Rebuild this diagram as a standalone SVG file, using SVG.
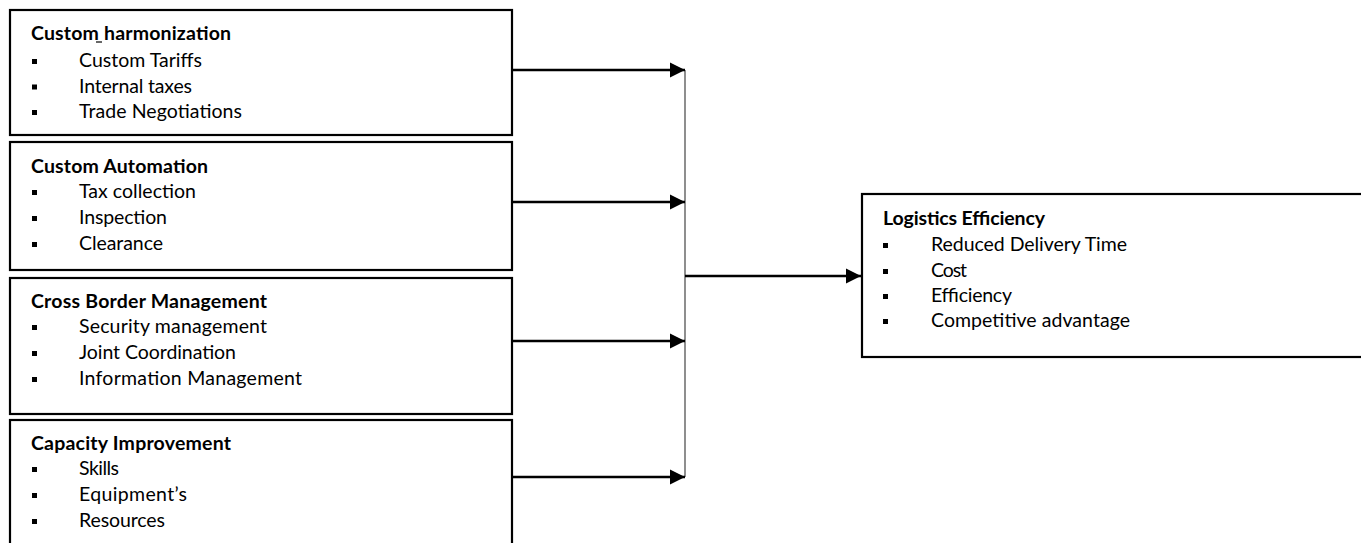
<svg xmlns="http://www.w3.org/2000/svg" width="1361" height="543" viewBox="0 0 1361 543">
<defs>
<style>
.box{fill:#fff;stroke:#000;stroke-width:2.2}
.t{font-family:Lato,"Liberation Sans",sans-serif;font-size:19.5px;fill:#000}
.b{font-weight:bold}
.bul{fill:#000}
.ln{stroke:#000;stroke-width:2.5;fill:none}
.vl{stroke:#444;stroke-width:1.2;fill:none}
</style>
<marker id="ah" markerUnits="userSpaceOnUse" markerWidth="16" markerHeight="16" refX="15" refY="8" orient="auto">
<path d="M0,0.5 L15,8 L0,15.5 Z" fill="#000"/>
</marker>
</defs>
<rect width="1361" height="543" fill="#fff"/>
<g id="connectors">
<line class="vl" x1="685" y1="70" x2="685" y2="477"/>
<line class="ln" x1="512" y1="70" x2="685" y2="70" marker-end="url(#ah)"/>
<line class="ln" x1="512" y1="202" x2="685" y2="202" marker-end="url(#ah)"/>
<line class="ln" x1="512" y1="341" x2="685" y2="341" marker-end="url(#ah)"/>
<line class="ln" x1="512" y1="477" x2="685" y2="477" marker-end="url(#ah)"/>
<line class="ln" x1="685" y1="276" x2="861" y2="276" marker-end="url(#ah)"/>
</g>
<g id="custom-harmonization">
<rect class="box" x="10" y="10" width="502" height="125"/>
<text class="t b" x="31" y="40" textLength="200">Custom harmonization</text>
<line x1="96" y1="42" x2="102" y2="42" stroke="#000" stroke-width="1.2"/>
<rect class="bul" x="32" y="59" width="5" height="5"/><text class="t" x="79" y="67" textLength="123">Custom Tariffs</text>
<rect class="bul" x="32" y="84.5" width="5" height="5"/><text class="t" x="79" y="92.5" textLength="113">Internal taxes</text>
<rect class="bul" x="32" y="110" width="5" height="5"/><text class="t" x="79" y="118" textLength="163">Trade Negotiations</text>
</g>
<g id="custom-automation">
<rect class="box" x="10" y="142" width="502" height="128"/>
<text class="t b" x="31" y="173" textLength="177">Custom Automation</text>
<rect class="bul" x="32" y="190" width="5" height="5"/><text class="t" x="79" y="198" textLength="117">Tax collection</text>
<rect class="bul" x="32" y="216" width="5" height="5"/><text class="t" x="79" y="224" textLength="88">Inspection</text>
<rect class="bul" x="32" y="242" width="5" height="5"/><text class="t" x="79" y="250" textLength="84">Clearance</text>
</g>
<g id="cross-border-management">
<rect class="box" x="10" y="278" width="502" height="136"/>
<text class="t b" x="31" y="308" textLength="236">Cross Border Management</text>
<rect class="bul" x="32" y="325" width="5" height="5"/><text class="t" x="79" y="333" textLength="188">Security management</text>
<rect class="bul" x="32" y="351" width="5" height="5"/><text class="t" x="79" y="359" textLength="157">Joint Coordination</text>
<rect class="bul" x="32" y="377" width="5" height="5"/><text class="t" x="79" y="385" textLength="223">Information Management</text>
</g>
<g id="capacity-improvement">
<rect class="box" x="10" y="420" width="502" height="130"/>
<text class="t b" x="31" y="450" textLength="200">Capacity Improvement</text>
<rect class="bul" x="32" y="467" width="5" height="5"/><text class="t" x="79" y="475" textLength="40">Skills</text>
<rect class="bul" x="32" y="493" width="5" height="5"/><text class="t" x="79" y="501" textLength="108">Equipment’s</text>
<rect class="bul" x="32" y="519" width="5" height="5"/><text class="t" x="79" y="527" textLength="86">Resources</text>
</g>
<g id="logistics-efficiency">
<rect class="box" x="862" y="194" width="520" height="163"/>
<text class="t b" x="883" y="225" textLength="162">Logistics Efficiency</text>
<rect class="bul" x="883" y="243" width="5" height="5"/><text class="t" x="931" y="251" textLength="196">Reduced Delivery Time</text>
<rect class="bul" x="883" y="269" width="5" height="5"/><text class="t" x="931" y="277" textLength="36">Cost</text>
<rect class="bul" x="883" y="294" width="5" height="5"/><text class="t" x="931" y="302" textLength="81">Efficiency</text>
<rect class="bul" x="883" y="319" width="5" height="5"/><text class="t" x="931" y="327" textLength="199">Competitive advantage</text>
</g>
</svg>
